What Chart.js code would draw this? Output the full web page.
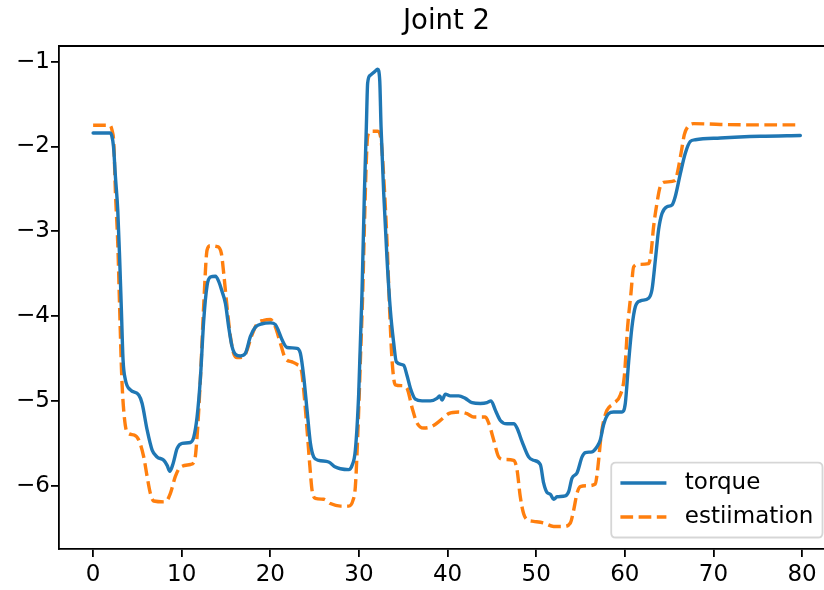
<!DOCTYPE html>
<html>
<head>
<meta charset="utf-8">
<script src="https://cdn.jsdelivr.net/npm/chart.js@4.4.1/dist/chart.umd.min.js"></script>
<style>
  html, body { margin: 0; padding: 0; background: #fff; overflow: hidden; }
  #wrap { width: 860px; height: 590px; }
</style>
</head>
<body>
<div id="wrap"><canvas id="c" width="860" height="590"></canvas></div>
<script>
const chartTitle = 'Joint 2';
const seriesNames = ['torque', 'estiimation'];
const xTickValues = [0, 10, 20, 30, 40, 50, 60, 70, 80];
const yTickValues = [-6, -5, -4, -3, -2, -1];

const torqueX = [0,1.0,1.9,2.1,2.3,2.52,2.78,3.0,3.19,3.38,3.64,4.21,5.15,5.53,6.09,6.66,7.22,7.97,8.35,8.65,9.02,9.48,10.04,10.98,11.35,11.73,12.1,12.48,12.86,13.23,13.8,14.17,14.55,14.93,15.3,15.68,16.05,16.62,17.18,17.75,18.31,19.07,20.0,20.57,20.94,21.32,21.89,23.01,23.39,23.76,24.14,24.52,24.89,25.45,26.58,27.34,27.9,28.84,29.22,29.59,29.97,30.34,30.61,30.83,30.98,31.28,31.74,32.11,32.34,32.49,32.79,33.17,33.54,33.92,34.22,35.04,35.42,35.8,36.36,37.12,38.05,38.8,39.1,39.37,39.75,40.3,41.25,42.0,42.76,43.7,44.45,44.9,45.39,45.95,46.71,47.46,47.83,48.4,49.14,49.7,50.46,50.84,51.22,51.59,51.97,52.35,53.28,53.66,54.04,54.6,55.17,55.54,56.3,56.86,57.23,57.6,58.17,58.73,59.68,60.05,60.42,60.8,61.18,61.75,62.68,63.06,63.44,63.81,64.19,64.76,65.32,65.69,66.26,66.82,67.39,67.96,70.78,75.3,79.8];
const torqueY = [-1.84,-1.84,-1.84,-1.87,-2.0,-2.36,-2.75,-3.34,-3.93,-4.52,-4.75,-4.87,-4.93,-5.03,-5.34,-5.58,-5.66,-5.70,-5.76,-5.83,-5.74,-5.56,-5.50,-5.49,-5.43,-5.19,-4.74,-4.05,-3.64,-3.54,-3.53,-3.59,-3.71,-3.85,-4.13,-4.36,-4.45,-4.47,-4.44,-4.24,-4.13,-4.09,-4.08,-4.10,-4.18,-4.28,-4.37,-4.38,-4.44,-4.71,-5.11,-5.50,-5.66,-5.70,-5.72,-5.78,-5.80,-5.81,-5.76,-5.58,-4.91,-3.73,-2.55,-1.77,-1.25,-1.16,-1.12,-1.09,-1.22,-1.77,-2.55,-3.34,-3.93,-4.32,-4.54,-4.58,-4.70,-4.85,-4.98,-5.0,-5.0,-4.97,-4.94,-4.99,-4.92,-4.94,-4.94,-4.97,-5.02,-5.03,-5.02,-5.0,-5.11,-5.23,-5.27,-5.27,-5.32,-5.48,-5.66,-5.70,-5.75,-5.97,-6.08,-6.10,-6.16,-6.13,-6.12,-6.07,-5.91,-5.85,-5.66,-5.61,-5.60,-5.54,-5.46,-5.28,-5.15,-5.13,-5.13,-5.03,-4.55,-4.13,-3.89,-3.82,-3.79,-3.69,-3.34,-2.98,-2.79,-2.71,-2.69,-2.59,-2.32,-2.08,-1.94,-1.92,-1.90,-1.88,-1.87];

const estX = [0,1.0,1.9,2.14,2.33,2.52,2.78,3.0,3.23,3.45,3.83,4.58,5.15,5.71,6.09,6.46,6.84,8.16,8.72,9.28,9.85,10.98,11.46,11.73,12.1,12.48,12.86,13.23,13.99,14.47,14.74,15.11,15.49,15.86,16.24,16.99,17.37,17.86,18.5,19.25,20.0,20.57,21.13,21.7,22.45,23.01,23.5,23.76,24.14,24.52,24.7,25.08,26.02,26.77,27.9,28.84,29.33,29.59,29.9,30.16,30.42,30.61,30.83,30.98,31.28,32.11,32.49,32.79,33.17,33.46,33.73,34.1,34.86,35.42,35.99,36.55,37.3,38.24,39.18,40.12,41.25,42.19,42.94,44.26,44.63,45.2,45.76,46.33,47.46,47.83,48.2,48.58,48.96,49.7,50.84,51.97,53.1,53.85,54.22,54.6,54.97,55.73,56.67,56.86,57.04,57.31,57.6,57.98,58.73,59.49,59.94,60.31,60.69,60.99,61.55,62.68,62.95,63.24,63.62,64.0,64.56,65.69,65.95,66.34,66.71,67.08,67.76,70.78,75.0,79.6];
const estY = [-1.75,-1.75,-1.75,-1.81,-1.96,-2.55,-3.14,-3.93,-4.71,-5.11,-5.37,-5.40,-5.46,-5.66,-5.89,-6.09,-6.18,-6.19,-6.09,-5.89,-5.78,-5.75,-5.70,-5.42,-4.75,-3.87,-3.22,-3.17,-3.18,-3.26,-3.50,-3.89,-4.24,-4.44,-4.49,-4.48,-4.40,-4.24,-4.09,-4.05,-4.04,-4.13,-4.32,-4.50,-4.54,-4.57,-4.64,-4.87,-5.34,-5.85,-6.05,-6.15,-6.16,-6.21,-6.24,-6.24,-6.17,-6.01,-5.30,-4.52,-3.73,-2.95,-2.16,-1.88,-1.82,-1.82,-1.92,-2.36,-3.14,-3.93,-4.52,-4.81,-4.82,-4.85,-5.08,-5.26,-5.32,-5.30,-5.23,-5.15,-5.13,-5.15,-5.19,-5.19,-5.26,-5.46,-5.66,-5.69,-5.70,-5.81,-6.13,-6.33,-6.40,-6.42,-6.44,-6.48,-6.48,-6.44,-6.29,-6.09,-6.01,-6.00,-5.98,-5.87,-5.70,-5.42,-5.24,-5.11,-5.03,-4.93,-4.71,-4.13,-3.73,-3.42,-3.39,-3.38,-3.26,-2.95,-2.67,-2.47,-2.42,-2.40,-2.30,-2.08,-1.86,-1.77,-1.73,-1.74,-1.745,-1.745];

const FONT = "'DejaVu Sans', sans-serif";
const BLUE = '#1f77b4';
const ORANGE = '#ff7f0e';
const LW = 3.4;
const DASH = [12.7, 5.5];

function pts(xs, ys) { return xs.map((x, i) => ({ x: x, y: ys[i] })); }
function fmt(v) { return v < 0 ? '\u2212' + Math.abs(v) : String(v); }

const framePlugin = {
  id: 'frame',
  afterDraw(chart) {
    const ctx = chart.ctx, a = chart.chartArea;
    ctx.save();
    ctx.strokeStyle = '#000';
    ctx.lineWidth = 1.8;
    ctx.beginPath();
    ctx.moveTo(a.left - 0.9, a.top);
    ctx.lineTo(a.right, a.top);
    ctx.moveTo(a.right, a.top);
    ctx.lineTo(a.right, a.bottom);
    ctx.stroke();
    ctx.restore();
  }
};

const legendPlugin = {
  id: 'boxLegend',
  afterDraw(chart) {
    const ctx = chart.ctx, a = chart.chartArea;
    const fs = 23;
    const pad = 9.2, handle = 46, gap = 18.4, axPad = 11.5, spacing = 11.5, rowH = 22.5;
    ctx.save();
    ctx.font = fs + 'px ' + FONT;
    const ds = chart.data.datasets;
    let tw = 0;
    ds.forEach(d => { tw = Math.max(tw, ctx.measureText(d.label).width); });
    const w = pad + handle + gap + tw + pad;
    const h = pad * 2 + rowH * ds.length + spacing * (ds.length - 1);
    const right = 822.5;
    const x0 = right - w;
    const y0 = a.bottom - axPad - h;
    const r = 4.6;
    ctx.beginPath();
    ctx.moveTo(x0 + r, y0);
    ctx.lineTo(x0 + w - r, y0);
    ctx.quadraticCurveTo(x0 + w, y0, x0 + w, y0 + r);
    ctx.lineTo(x0 + w, y0 + h - r);
    ctx.quadraticCurveTo(x0 + w, y0 + h, x0 + w - r, y0 + h);
    ctx.lineTo(x0 + r, y0 + h);
    ctx.quadraticCurveTo(x0, y0 + h, x0, y0 + h - r);
    ctx.lineTo(x0, y0 + r);
    ctx.quadraticCurveTo(x0, y0, x0 + r, y0);
    ctx.closePath();
    ctx.fillStyle = 'rgba(255,255,255,0.8)';
    ctx.fill();
    ctx.strokeStyle = 'rgba(204,204,204,0.8)';
    ctx.lineWidth = 1.8;
    ctx.stroke();
    ds.forEach((d, i) => {
      const cy = y0 + pad + rowH / 2 + i * (rowH + spacing);
      ctx.beginPath();
      ctx.strokeStyle = d.borderColor;
      ctx.lineWidth = d.borderWidth;
      ctx.setLineDash(d.borderDash || []);
      ctx.moveTo(x0 + pad, cy);
      ctx.lineTo(x0 + pad + handle, cy);
      ctx.stroke();
      ctx.setLineDash([]);
      ctx.fillStyle = '#000';
      ctx.textBaseline = 'middle';
      ctx.textAlign = 'left';
      ctx.fillText(d.label, x0 + pad + handle + gap, cy);
    });
    ctx.restore();
  }
};

new Chart(document.getElementById('c'), {
  type: 'line',
  data: {
    datasets: [
      { label: seriesNames[0], data: pts(torqueX, torqueY), borderColor: BLUE, backgroundColor: BLUE,
        borderWidth: LW, pointRadius: 0, fill: false, cubicInterpolationMode: 'monotone', borderJoinStyle: 'round', borderCapStyle: 'round' },
      { label: seriesNames[1], data: pts(estX, estY), borderColor: ORANGE, backgroundColor: ORANGE,
        borderWidth: LW, borderDash: DASH, pointRadius: 0, fill: false, cubicInterpolationMode: 'monotone', borderCapStyle: 'butt' }
    ]
  },
  options: {
    responsive: false,
    animation: false,
    devicePixelRatio: 1,
    layout: { padding: { left: 0, right: 26, top: 0, bottom: 0 } },
    plugins: {
      legend: { display: false },
      tooltip: { enabled: false },
      title: {
        display: true, text: chartTitle, fullSize: false, color: '#000',
        font: { family: FONT, size: 27.5, weight: 'normal', lineHeight: 1.2 },
        padding: { top: 5, bottom: 8 }
      }
    },
    scales: {
      x: {
        type: 'linear', min: -3.85, max: 83.6,
        afterFit(s) { s.height = 41; },
        afterBuildTicks(s) { s.ticks = xTickValues.map(v => ({ value: v })); },
        ticks: { font: { family: FONT, size: 23 }, color: '#000', padding: 4, maxRotation: 0, autoSkip: false, callback: v => fmt(v) },
        grid: { display: true, drawOnChartArea: false, drawTicks: true, tickLength: 8, color: '#000', lineWidth: 1.8 },
        border: { display: true, color: '#000', width: 1.8 }
      },
      y: {
        type: 'linear', min: -6.746, max: -0.815,
        afterFit(s) { s.width = 59; },
        afterBuildTicks(s) { s.ticks = yTickValues.map(v => ({ value: v })); },
        ticks: { font: { family: FONT, size: 23 }, color: '#000', padding: 1, autoSkip: false, callback: v => fmt(v) },
        grid: { display: true, drawOnChartArea: false, drawTicks: true, tickLength: 8, color: '#000', lineWidth: 1.8 },
        border: { display: true, color: '#000', width: 1.8 }
      }
    }
  },
  plugins: [framePlugin, legendPlugin]
});
</script>
</body>
</html>
